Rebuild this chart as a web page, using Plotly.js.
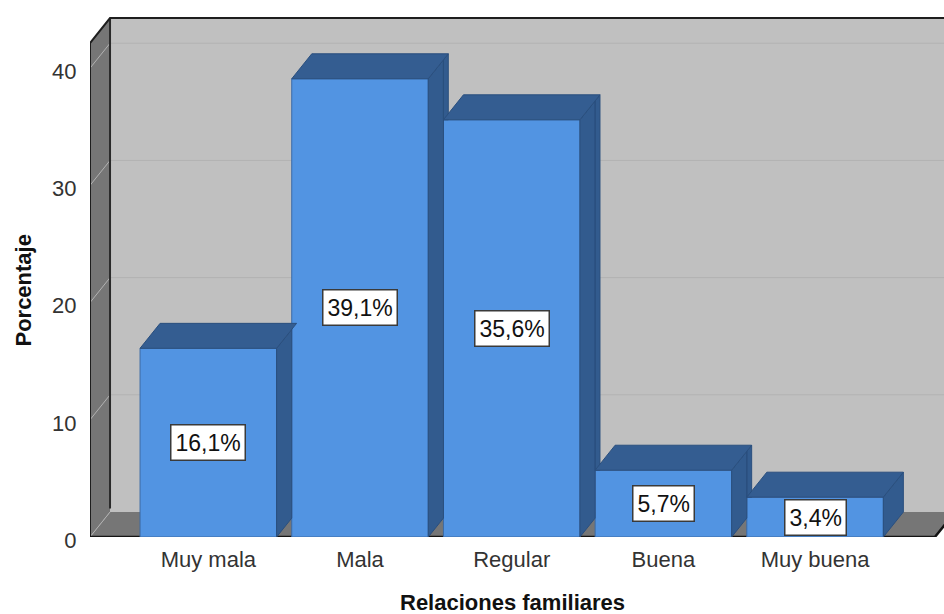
<!DOCTYPE html>
<html>
<head>
<meta charset="utf-8">
<script src="https://cdn.plot.ly/plotly-3.0.1.min.js"></script>
<style>html,body{margin:0;padding:0;background:#fff;}#chart{width:944px;height:614px;}</style>
</head>
<body>
<div id="chart"></div>
<script>
// ---- data ----
const categories = ['Muy mala', 'Mala', 'Regular', 'Buena', 'Muy buena'];
const percentages = [16.1, 39.1, 35.6, 5.7, 3.4];
const valueLabels = ['16,1%', '39,1%', '35,6%', '5,7%', '3,4%'];
const yTickValues = [0, 10, 20, 30, 40];
const xTitle = 'Relaciones familiares';
const yTitle = 'Porcentaje';

// ---- 3D geometry (data units) ----
const W = 0.9;        // bar width
const DX = 0.132;     // depth offset, x
const DY = 2.13;      // depth offset, y
const X0 = -0.78;     // front-left edge of floor
const XR = 4.79;      // front-right edge of floor
const TOP = 42.15;    // front top of walls
const FONT = 'Liberation Sans, Arial, sans-serif';

const xIdx = categories.map((c, i) => i);

function clip(poly, a, b, c) {
  const out = [];
  for (let k = 0; k < poly.length; k++) {
    const P = poly[k], Q = poly[(k + 1) % poly.length];
    const fp = a * P[0] + b * P[1] - c, fq = a * Q[0] + b * Q[1] - c;
    const pin = fp <= 0, qin = fq <= 0;
    if (pin) out.push(P);
    if (pin !== qin) {
      const t = fp / (fp - fq);
      out.push([P[0] + t * (Q[0] - P[0]), P[1] + t * (Q[1] - P[1])]);
    }
  }
  return out;
}

const sideX = [], sideY = [], topX = [], topY = [];
function pushPoly(poly, X, Y) {
  if (poly.length < 3) return;
  poly.forEach(p => { X.push(p[0]); Y.push(p[1]); });
  X.push(poly[0][0]); Y.push(poly[0][1]);
  X.push(null); Y.push(null);
}
xIdx.forEach((i, k) => {
  const v = percentages[k];
  const xl = i - W / 2, xr = i + W / 2;
  // top face
  pushPoly([[xl, v], [xl + DX, v + DY], [xr + DX, v + DY], [xr, v]], topX, topY);
  // side face, minus the part hidden by the next bar's front
  const side = [[xr, 0], [xr, v], [xr + DX, v + DY], [xr + DX, DY]];
  if (k < xIdx.length - 1) {
    const xn = xIdx[k + 1] - W / 2, vn = percentages[k + 1];
    pushPoly(clip(side, 1, 0, xn), sideX, sideY);
    pushPoly(clip(clip(side, -1, 0, -xn), 0, -1, -vn), sideX, sideY);
  } else {
    pushPoly(side, sideX, sideY);
  }
});

const traces = [
  {
    type: 'bar', x: xIdx, y: percentages, width: W,
    marker: { color: '#5294e2', line: { color: '#3b6aa6', width: 1 } },
    hoverinfo: 'skip'
  },
  {
    type: 'scatter', mode: 'lines', x: sideX, y: sideY, fill: 'toself',
    fillcolor: '#325b8e', line: { color: '#2a4f7e', width: 1 }, hoverinfo: 'skip'
  },
  {
    type: 'scatter', mode: 'lines', x: topX, y: topY, fill: 'toself',
    fillcolor: '#345d91', line: { color: '#2a4f7e', width: 1 }, hoverinfo: 'skip'
  }
];

const shapes = [];
// back wall
shapes.push({ type: 'rect', layer: 'below', xref: 'x', yref: 'y',
  x0: X0 + DX, x1: XR + DX + 0.5, y0: DY, y1: TOP + DY,
  fillcolor: '#c0c0c0', line: { width: 0 } });
// left wall
shapes.push({ type: 'path', layer: 'below', xref: 'x', yref: 'y',
  path: `M${X0},0 L${X0},${TOP} L${X0 + DX},${TOP + DY} L${X0 + DX},${DY} Z`,
  fillcolor: '#767676', line: { width: 0 } });
// floor
shapes.push({ type: 'path', layer: 'below', xref: 'x', yref: 'y',
  path: `M${X0},0 L${XR},0 L${XR + DX},${DY} L${X0 + DX},${DY} Z`,
  fillcolor: '#767676', line: { width: 0 } });
// grid lines
yTickValues.forEach(v => {
  const p = v === 0
    ? `M${X0},${v} L${X0 + DX},${v + DY}`
    : `M${X0},${v} L${X0 + DX},${v + DY} L${XR + DX + 0.5},${v + DY}`;
  shapes.push({ type: 'path', layer: 'below', xref: 'x', yref: 'y', path: p,
    line: { color: '#b2b2b2', width: 1 } });
});
// corner line
shapes.push({ type: 'path', layer: 'below', xref: 'x', yref: 'y',
  path: `M${X0 + DX},${DY + 0.3} L${X0 + DX},${TOP + DY}`,
  line: { color: '#2a2a2a', width: 2 } });
// outer outline
shapes.push({ type: 'path', layer: 'below', xref: 'x', yref: 'y',
  path: `M${X0},0 L${X0},${TOP} L${X0 + DX},${TOP + DY} L${XR + DX + 0.5},${TOP + DY}`,
  line: { color: '#1e1e1e', width: 2 } });
// floor front edge
shapes.push({ type: 'path', layer: 'below', xref: 'x', yref: 'y',
  path: `M${X0},0 L${XR},0 L${XR + DX},${DY}`,
  line: { color: '#141414', width: 2.5 } });

const annotations = xIdx.map((i, k) => ({
  x: i, y: percentages[k] / 2, xref: 'x', yref: 'y',
  text: valueLabels[k], showarrow: false,
  font: { family: FONT, size: 23, color: '#111' },
  bgcolor: '#ffffff', bordercolor: '#3a3a3a', borderwidth: 1.5, borderpad: 4
}));
annotations.push({
  x: -0.079, xref: 'paper', y: TOP / 2, yref: 'y', text: '<b>' + yTitle + '</b>',
  textangle: -90, showarrow: false, xanchor: 'center', yanchor: 'middle',
  font: { family: FONT, size: 22, color: '#111' }
});
annotations.push({
  x: (X0 + XR) / 2, xref: 'x', y: -0.125, yref: 'paper', text: '<b>' + xTitle + '</b>',
  showarrow: false, xanchor: 'center', yanchor: 'middle',
  font: { family: FONT, size: 22, color: '#111' }
});

const layout = {
  width: 944, height: 614,
  margin: { l: 90, r: 0, t: 15, b: 77, pad: 0 },
  paper_bgcolor: '#ffffff', plot_bgcolor: '#ffffff',
  showlegend: false,
  xaxis: {
    range: [X0, 4.85], tickmode: 'array', tickvals: xIdx, ticktext: categories,
    showgrid: false, zeroline: false, showline: false,
    ticks: 'outside', ticklen: 3, tickcolor: 'rgba(0,0,0,0)',
    tickfont: { family: FONT, size: 22, color: '#333' }, fixedrange: true
  },
  yaxis: {
    range: [0, 44.54], tickmode: 'array', tickvals: yTickValues,
    showgrid: false, zeroline: false, showline: false,
    ticks: 'outside', ticklen: 8, tickcolor: 'rgba(0,0,0,0)',
    ticklabelshift: 3,
    tickfont: { family: FONT, size: 22, color: '#333' }, fixedrange: true
  },
  shapes: shapes,
  annotations: annotations
};

Plotly.newPlot('chart', traces, layout, { staticPlot: true, displayModeBar: false });
</script>
</body>
</html>
